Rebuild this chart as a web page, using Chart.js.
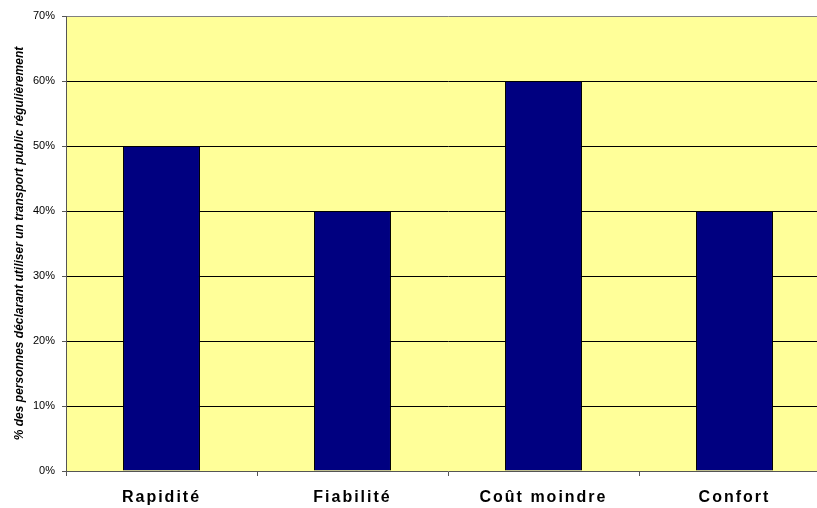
<!DOCTYPE html>
<html>
<head>
<meta charset="utf-8">
<script src="https://cdn.jsdelivr.net/npm/chart.js@4.4.0/dist/chart.umd.min.js"></script>
<style>
  html, body { margin: 0; padding: 0; background: #fff; overflow: hidden; }
  #wrap { width: 850px; height: 508px; }
</style>
</head>
<body>
<div id="wrap"><canvas id="chart" width="850" height="508"></canvas></div>
<script>
// categories and values (percent)
const categories = ["Rapidité", "Fiabilité", "Coût moindre", "Confort"];
const values = [50, 40, 60, 40];
const yTicks = [0, 10, 20, 30, 40, 50, 60, 70];
const yTitle = "% des personnes déclarant utiliser un transport public régulièrement";

//plot background + letter spacing for the category labels
const plotBg = {
  id: "plotBg",
  beforeDraw(chart) {
    const { ctx, chartArea: a } = chart;
    ctx.letterSpacing = "0px";
    ctx.save();
    ctx.fillStyle = "#FFFF99";
    ctx.fillRect(a.left, a.top, a.right - a.left, a.bottom - a.top);
    ctx.restore();
  },
  afterDatasetsDraw(chart) {
    // x tick labels are drawn after the bars (ticks.z: 1), so this only touches them
    chart.ctx.letterSpacing = "2px";
  },
  afterDraw(chart) {
    chart.ctx.letterSpacing = "0px";
  }
};

new Chart(document.getElementById("chart"), {
  type: "bar",
  plugins: [plotBg],
  data: {
    labels: categories,
    datasets: [{
      data: values,
      backgroundColor: "#000080",
      borderColor: "#000000",
      borderWidth: 1,
      barPercentage: 0.403,
      categoryPercentage: 1
    }]
  },
  options: {
    responsive: false,
    animation: false,
    layout: { padding: { left: 0, top: 16, right: 20, bottom: 0 } },
    plugins: { legend: { display: false }, tooltip: { enabled: false } },
    scales: {
      x: {
        offset: true,
        grid: {
          offset: true,
          drawOnChartArea: false,
          drawTicks: true,
          tickLength: 5,
          color: "#555"
        },
        border: { color: "#555", width: 1, z: 1 },
        ticks: {
          z: 1,
          color: "#000",
          padding: 12,
          maxRotation: 0,
          font: { family: "Liberation Sans, Arial, sans-serif", size: 16, weight: "bold" }
        },
        afterFit(scale) { scale.height = 37; }
      },
      y: {
        min: 0,
        max: 70,
        afterBuildTicks(scale) { scale.ticks = yTicks.map(v => ({ value: v })); },
        grid: {
          color: (ctx) => {
            const v = ctx.tick ? ctx.tick.value : null;
            if (v === 0) return "rgba(0,0,0,0)";
            if (v === 70) return "#808080";
            return "#000";
          },
          tickColor: "#555",
          tickLength: 4,
          lineWidth: 1
        },
        border: { color: "#555", width: 1 },
        ticks: {
          color: "#000",
          padding: 7,
          font: { family: "Liberation Sans, Arial, sans-serif", size: 11 },
          callback: (v) => v + "%"
        },
        title: {
          display: true,
          text: yTitle,
          color: "#000",
          padding: { top: 12, bottom: 0 },
          font: { family: "Liberation Sans, Arial, sans-serif", size: 12, weight: "bold", style: "italic" }
        },
        afterFit(scale) { scale.width = 66; }
      }
    }
  }
});
</script>
</body>
</html>
